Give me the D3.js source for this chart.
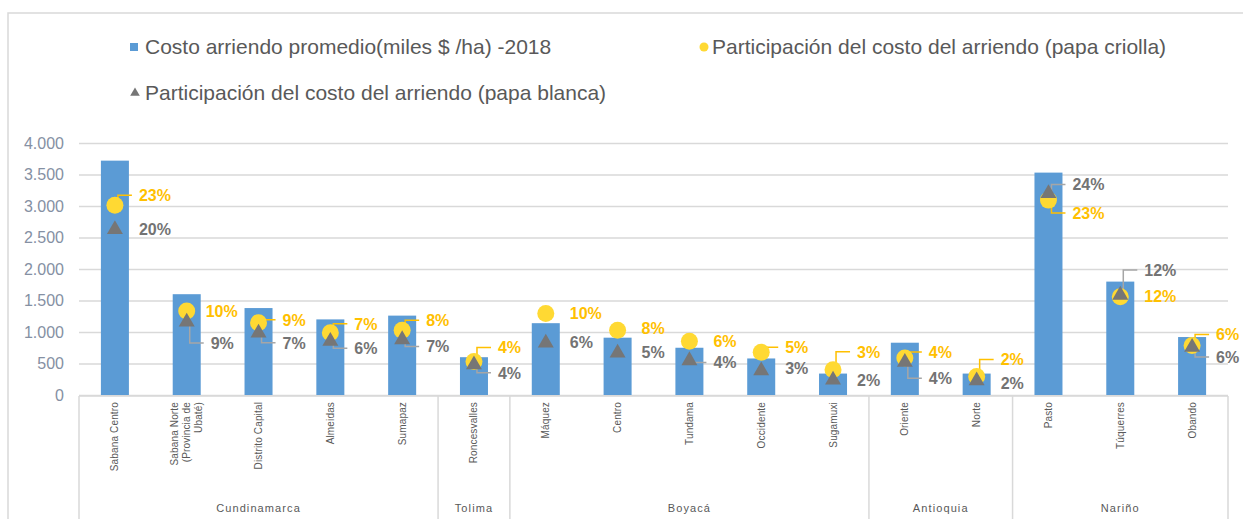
<!DOCTYPE html>
<html>
<head>
<meta charset="utf-8">
<script src="https://cdn.jsdelivr.net/npm/d3@7"></script>
<style>
  body { margin: 0; background: #fff; }
  svg { font-family: "Liberation Sans", Arial, sans-serif; }
</style>
</head>
<body>
<svg id="chart" width="1243" height="519"></svg>
<script>
// ---- datos ----
const categorias = ["Sabana Centro", "Sabana Norte\n(Provincia de\nUbaté)", "Distrito Capital", "Almeidas", "Sumapaz",
  "Roncesvalles", "Máquez", "Centro", "Tundama", "Occidente", "Sugamuxi", "Oriente", "Norte", "Pasto", "Túquerres", "Obando"];
const departamentos = ["Cundinamarca", "Cundinamarca", "Cundinamarca", "Cundinamarca", "Cundinamarca",
  "Tolima", "Boyacá", "Boyacá", "Boyacá", "Boyacá", "Boyacá", "Antioquia", "Antioquia", "Nariño", "Nariño", "Nariño"];
// miles $ / ha
const costoArriendo = [3720, 1600, 1380, 1200, 1260, 600, 1140, 910, 750, 580, 340, 830, 340, 3530, 1800, 920];
// participación (fracción)
const partCriolla = [0.226, 0.100, 0.086, 0.074, 0.077, 0.040, 0.097, 0.077, 0.064, 0.051, 0.030, 0.044, 0.022, 0.232, 0.117, 0.059];
const partBlanca  = [0.197, 0.087, 0.074, 0.064, 0.066, 0.036, 0.062, 0.050, 0.041, 0.029, 0.018, 0.039, 0.017, 0.240, 0.119, 0.057];
const yTicks = [0, 500, 1000, 1500, 2000, 2500, 3000, 3500, 4000];
const leyendaTextos = [
  "Costo arriendo promedio(miles $ /ha) -2018",
  "Participación del costo del arriendo (papa criolla)",
  "Participación del costo del arriendo (papa blanca)"
];

// ---- posición de etiquetas (desplazamiento vertical respecto al marcador, con o sin línea guía) ----
const etqCriollaDy = [-10, 0, -3, -9, -10, -14, 0, -2, 0, -5, -18, -6, -17, 13, 0, -11];
const etqCriollaGuia = [1, 0, 1, 1, 1, 1, 0, 0, 0, 1, 1, 1, 1, 1, 0, 1];
const etqBlancaDy = [0, 21, 10, 7, 7, 8, -1, -1, 2, -2, 0, 16, 3, -9, -25, 10];
const etqBlancaGuia = [0, 1, 1, 1, 1, 1, 0, 0, 1, 0, 0, 1, 0, 1, 1, 1];

// colores
const cBar = "#5B9BD5", cCirc = "#FFD933", cCircTxt = "#FFC000", cTri = "#767676", cTriTxt = "#737373";
const cGrid = "#D9D9D9", cTxt = "#595959";

const svg = d3.select("#chart");
const plotL = 79, plotR = 1228, plotT = 143, plotB = 395;

// marco
svg.append("path")
  .attr("d", `M8,519 V13 H1243`)
  .attr("fill", "none").attr("stroke", cGrid).attr("stroke-width", 1.5);

const idx = d3.range(categorias.length);
const x = d3.scaleBand().domain(idx).range([plotL, plotR]).paddingInner(0.61).paddingOuter(0.305);
const y = d3.scaleLinear().domain([0, 4000]).range([plotB, plotT]);
const y2 = d3.scaleLinear().domain([0, 0.30]).range([plotB, plotT]);
const cx = i => x(i) + x.bandwidth() / 2;

const loc = d3.formatLocale({ decimal: ",", thousands: ".", grouping: [3], currency: ["$", ""] });
const fmtMiles = loc.format(",d");
const fmtPct = d3.format(".0%");

// cuadrícula
const grid = svg.append("g")
  .attr("transform", `translate(${plotL},0)`)
  .call(d3.axisLeft(y).tickValues(yTicks).tickSize(-(plotR - plotL)).tickFormat(""));
grid.select(".domain").remove();
grid.selectAll("line").attr("stroke", cGrid).attr("stroke-width", 1.5);

// eje y
const yAxis = svg.append("g")
  .attr("transform", `translate(${plotL - 15},0)`)
  .call(d3.axisLeft(y).tickValues(yTicks).tickSize(0).tickPadding(0).tickFormat(fmtMiles));
yAxis.select(".domain").remove();
yAxis.selectAll("text")
  .attr("fill", "#8590A3").style("font-size", "16px")
  .style("font-family", "'Liberation Sans', Arial, sans-serif");

// barras
svg.append("g").selectAll("rect")
  .data(idx).join("rect")
  .attr("x", i => x(i)).attr("width", x.bandwidth())
  .attr("y", i => y(costoArriendo[i])).attr("height", i => plotB - y(costoArriendo[i]))
  .attr("fill", cBar);

// eje x: línea base y separadores de departamentos
svg.append("line")
  .attr("x1", plotL).attr("x2", plotR).attr("y1", plotB + 1).attr("y2", plotB + 1)
  .attr("stroke", cGrid).attr("stroke-width", 1.5);

const gap = (x.step() - x.bandwidth()) / 2;
const grupos = [];
departamentos.forEach((d, i) => {
  if (!grupos.length || grupos[grupos.length - 1].nombre !== d) grupos.push({ nombre: d, ini: i, fin: i });
  else grupos[grupos.length - 1].fin = i;
});
grupos.forEach(g => {
  g.x0 = x(g.ini) - gap;
  g.x1 = x(g.fin) + x.bandwidth() + gap;
});
const limites = [grupos[0].x0, ...grupos.map(g => g.x1)];
svg.append("g").selectAll("line")
  .data(limites).join("line")
  .attr("x1", d => d).attr("x2", d => d)
  .attr("y1", plotB + 1).attr("y2", 519)
  .attr("stroke", cGrid).attr("stroke-width", 1.5);

// etiquetas de categoría (rotadas)
const catTxt = svg.append("g").selectAll("text")
  .data(idx).join("text")
  .attr("transform", i => `translate(${cx(i)},${plotB + 7}) rotate(-90)`)
  .attr("text-anchor", "end")
  .attr("fill", cTxt)
  .style("font-size", "10px")
  .style("letter-spacing", "0.15px");
catTxt.each(function (i) {
  const lineas = categorias[i].split("\n");
  const n = lineas.length;
  d3.select(this).selectAll("tspan")
    .data(lineas).join("tspan")
    .attr("x", 0)
    .attr("dy", (l, k) => k === 0 ? `${0.35 - (n - 1) * 0.6}em` : "1.2em")
    .text(l => l);
});

// etiquetas de departamento
svg.append("g").selectAll("text")
  .data(grupos).join("text")
  .attr("x", g => (g.x0 + g.x1) / 2).attr("y", 512)
  .attr("text-anchor", "middle")
  .attr("fill", cTxt)
  .style("font-size", "11px")
  .style("letter-spacing", "1.1px")
  .text(g => g.nombre);

// líneas guía
const lx = i => cx(i) + 24;
function guia(i, my, dy, lxv) {
  const ly = my + dy;
  return `M${cx(i) + 3},${my} V${ly} H${lxv - 7}`;
}
svg.append("g").selectAll("path")
  .data(idx.filter(i => etqCriollaGuia[i])).join("path")
  .attr("d", i => guia(i, y2(partCriolla[i]), etqCriollaDy[i], lx(i)))
  .attr("fill", "none").attr("stroke", cCircTxt).attr("stroke-width", 1.5);
svg.append("g").selectAll("path")
  .data(idx.filter(i => etqBlancaGuia[i])).join("path")
  .attr("d", i => guia(i, y2(partBlanca[i]), etqBlancaDy[i], lx(i)))
  .attr("fill", "none").attr("stroke", "#A6A6A6").attr("stroke-width", 1.5);

// marcadores
svg.append("g").selectAll("circle")
  .data(idx).join("circle")
  .attr("cx", cx).attr("cy", i => y2(partCriolla[i])).attr("r", 8.5)
  .attr("fill", cCirc);
const tri = d3.symbol().type(d3.symbolTriangle).size(110);
svg.append("g").selectAll("path")
  .data(idx).join("path")
  .attr("d", tri)
  .attr("transform", i => `translate(${cx(i)},${y2(partBlanca[i])})`)
  .attr("fill", cTri);

// etiquetas de datos
svg.append("g").selectAll("text")
  .data(idx).join("text")
  .attr("x", i => i === 1 ? cx(i) + 19 : lx(i))
  .attr("y", i => y2(partCriolla[i]) + etqCriollaDy[i])
  .attr("dy", "0.36em")
  .attr("fill", cCircTxt)
  .style("font-size", "16px").style("font-weight", "bold")
  .text(i => fmtPct(partCriolla[i]));
svg.append("g").selectAll("text")
  .data(idx).join("text")
  .attr("x", lx)
  .attr("y", i => y2(partBlanca[i]) + etqBlancaDy[i])
  .attr("dy", "0.36em")
  .attr("fill", cTriTxt)
  .style("font-size", "16px").style("font-weight", "bold")
  .text(i => fmtPct(partBlanca[i]));

// leyenda
const ley = svg.append("g").style("font-size", "21px").attr("fill", cTxt);
ley.append("rect").attr("x", 130).attr("y", 43).attr("width", 8).attr("height", 8).attr("fill", cBar);
ley.append("text").attr("x", 145).attr("y", 47).attr("dy", "0.35em").text(leyendaTextos[0]);
ley.append("circle").attr("cx", 704).attr("cy", 47).attr("r", 4.5).attr("fill", cCirc);
ley.append("text").attr("x", 712).attr("y", 47).attr("dy", "0.35em").text(leyendaTextos[1]);
ley.append("path").attr("d", d3.symbol().type(d3.symbolTriangle).size(40))
  .attr("transform", "translate(135,93)").attr("fill", cTri);
ley.append("text").attr("x", 145).attr("y", 93).attr("dy", "0.35em").text(leyendaTextos[2]);
</script>
</body>
</html>
